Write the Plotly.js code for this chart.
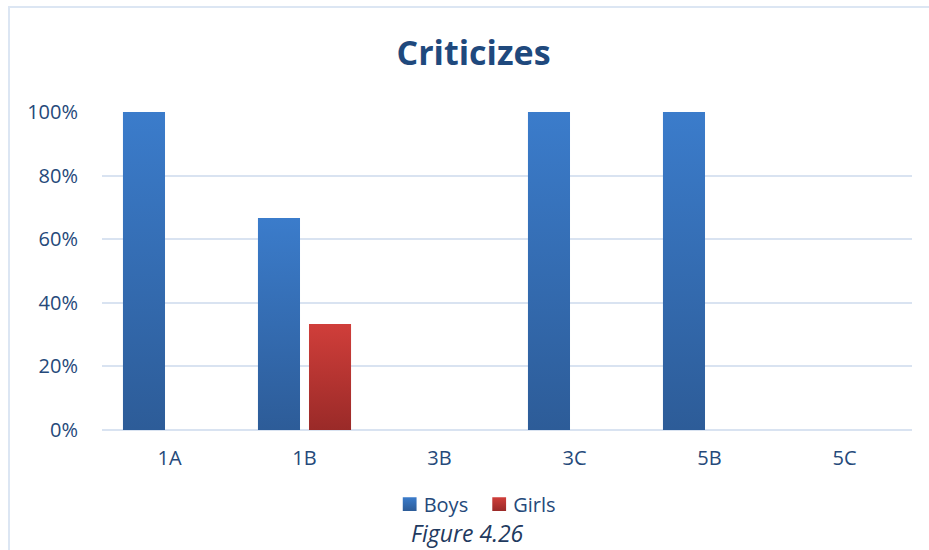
<!DOCTYPE html>
<html><head><meta charset="utf-8">
<script src="https://cdn.plot.ly/plotly-3.0.1.min.js"></script>
<style>
html,body{margin:0;padding:0;background:#fff;}
#wrap{position:relative;width:929px;height:550px;overflow:hidden;}
#chart{width:929px;height:550px;}
#frame{position:absolute;left:8px;top:6px;width:940px;height:560px;border:2px solid #DCE6F3;pointer-events:none;box-sizing:border-box;}
</style></head>
<body>
<div id="wrap"><div id="chart"></div><div id="frame"></div></div>
<script>
const categories = ["1A", "1B", "3B", "3C", "5B", "5C"];
const boys = [1.0, 0.667, 0, 1.0, 1.0, 0];
const girls = [0, 0.333, 0, 0, 0, 0];
const chartTitle = "Criticizes";
const caption = "Figure 4.26";

const FONT = "'Open Sans', Carlito, Calibri, sans-serif";
const TXT = "#25497A";

const data = [
  {type:"bar", name:"Boys", x:categories, y:boys, marker:{color:"#3470B6"}},
  {type:"bar", name:"Girls", x:categories, y:girls, marker:{color:"#B93532"}}
];

const layout = {
  width:929, height:550,
  margin:{l:102, r:17, t:112, b:120},
  paper_bgcolor:"#fff", plot_bgcolor:"#fff",
  barmode:"group", bargap:0.244, bargroupgap:0.176,
  font:{family:FONT, color:TXT},
  title:{text:"<b>"+chartTitle+"</b>", x:0.5097, xanchor:"center", y:0.903, yanchor:"middle",
         font:{family:FONT, size:34, color:"#1F497D"}},
  xaxis:{type:"category", showgrid:false, zeroline:false, showline:false, ticks:"",
         tickfont:{family:FONT, size:20, color:TXT}, ticklabelstandoff:14, fixedrange:true},
  yaxis:{range:[0,1], dtick:0.2, tickformat:".0%", showgrid:true, gridcolor:"#D9E3F1", gridwidth:2,
         zeroline:true, zerolinecolor:"#D9E3F1", zerolinewidth:2, showline:false, ticks:"",
         tickfont:{family:FONT, size:20, color:TXT}, ticklabelstandoff:23, fixedrange:true},
  showlegend:true,
  legend:{orientation:"h", x:0.457, xanchor:"center", y:-0.233, yanchor:"middle",
          font:{family:FONT, size:20, color:TXT}, itemwidth:30, tracegroupgap:0},
  annotations:[{text:"<i>"+caption+"</i>", xref:"paper", yref:"paper", x:0.451, y:-0.325,
                xanchor:"center", yanchor:"middle", showarrow:false,
                font:{family:FONT, size:23, color:"#1F3A60"}}]
};

Plotly.newPlot("chart", data, layout, {displayModeBar:false, staticPlot:true}).then(function(gd){
  const svg = gd.querySelector("svg.main-svg");
  const ns = "http://www.w3.org/2000/svg";
  const defs = document.createElementNS(ns, "defs");
  function grad(id, top, bot){
    const g = document.createElementNS(ns, "linearGradient");
    g.setAttribute("id", id); g.setAttribute("x1","0"); g.setAttribute("y1","0");
    g.setAttribute("x2","0"); g.setAttribute("y2","1");
    [[0,top],[1,bot]].forEach(function(s){
      const st = document.createElementNS(ns, "stop");
      st.setAttribute("offset", s[0]); st.setAttribute("stop-color", s[1]);
      g.appendChild(st);
    });
    defs.appendChild(g);
  }
  grad("gBoys", "#3B7CCB", "#2D5C98");
  grad("gGirls", "#D03E3A", "#9A2A28");
  svg.insertBefore(defs, svg.firstChild);
  const traces = gd.querySelectorAll(".barlayer .trace");
  traces.forEach(function(t, i){
    t.querySelectorAll("path").forEach(function(p){
      p.style.fill = "url(#" + (i===0 ? "gBoys" : "gGirls") + ")";
    });
  });
  const legendPts = gd.querySelectorAll(".legend .traces");
  legendPts.forEach(function(t, i){
    t.querySelectorAll(".legendpoints").forEach(function(lp){
      lp.setAttribute("transform", "translate(3,0) scale(1.15)");
    });
    t.querySelectorAll(".legendpoints path").forEach(function(p){
      p.style.fill = "url(#" + (i===0 ? "gBoys" : "gGirls") + ")";
    });
  });
});
</script>
</body></html>
